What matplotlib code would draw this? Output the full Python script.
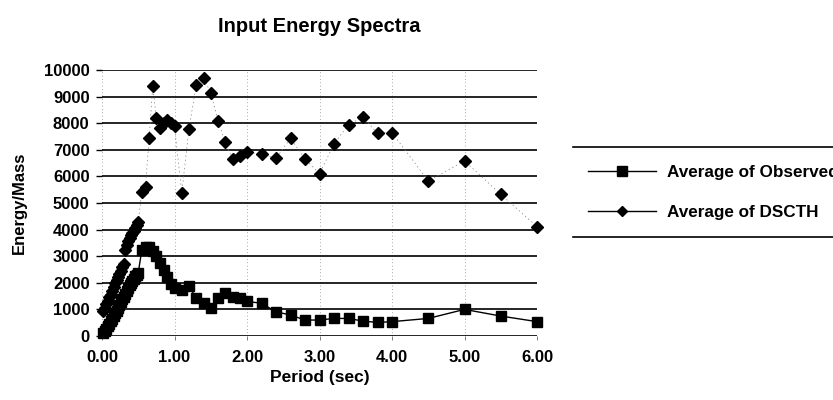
import matplotlib
matplotlib.use("Agg")
import matplotlib.pyplot as plt
from matplotlib.lines import Line2D

plt.rcParams['font.family'] = ['Liberation Sans', 'DejaVu Sans']

# ---- data ----
obs_period = [0.02, 0.04, 0.06, 0.08, 0.10, 0.12, 0.14, 0.16, 0.18, 0.20,
              0.22, 0.24, 0.26, 0.28, 0.30, 0.32, 0.34, 0.36, 0.38, 0.40,
              0.42, 0.44, 0.46, 0.48, 0.50,
              0.55, 0.60, 0.65, 0.70, 0.75, 0.80, 0.85, 0.90, 0.95, 1.00,
              1.10, 1.20, 1.30, 1.40, 1.50, 1.60, 1.70, 1.80, 1.90, 2.00,
              2.20, 2.40, 2.60, 2.80, 3.00, 3.20, 3.40, 3.60, 3.80, 4.00,
              4.50, 5.00, 5.50, 6.00]
obs_energy = [100, 180, 270, 370, 460, 560, 650, 760, 860, 950,
              1060, 1160, 1270, 1380, 1480, 1590, 1690, 1790, 1900, 1990,
              2080, 2160, 2240, 2310, 2380,
              3250, 3350, 3340, 3200, 3000, 2750, 2480, 2200, 1950, 1800,
              1730, 1880, 1420, 1230, 1040, 1420, 1600, 1450, 1420, 1300,
              1230, 910, 790, 600, 600, 660, 660, 560, 510, 540,
              660, 1000, 750, 540]

dsc_period = [0.02, 0.04, 0.06, 0.08, 0.10, 0.12, 0.14, 0.16, 0.18, 0.20,
              0.22, 0.24, 0.26, 0.28, 0.30, 0.32, 0.34, 0.36, 0.38, 0.40,
              0.42, 0.44, 0.46, 0.48, 0.50,
              0.55, 0.60, 0.65, 0.70, 0.75, 0.80, 0.85, 0.90, 0.95, 1.00,
              1.10, 1.20, 1.30, 1.40, 1.50, 1.60, 1.70, 1.80, 1.90, 2.00,
              2.20, 2.40, 2.60, 2.80, 3.00, 3.20, 3.40, 3.60, 3.80, 4.00,
              4.50, 5.00, 5.50, 6.00]
dsc_energy = [950, 1050, 1200, 1330, 1450, 1560, 1700, 1850, 1980, 2100,
              2200, 2330, 2450, 2580, 2700, 3250, 3420, 3580, 3700, 3800,
              3880, 3960, 4050, 4170, 4300,
              5430, 5620, 7430, 9400, 8190, 7820, 8000, 8110, 7990, 7880,
              5380, 7800, 9450, 9690, 9150, 8090, 7280, 6650, 6780, 6930,
              6830, 6680, 7430, 6660, 6100, 7220, 7950, 8230, 7620, 7650,
              5830, 6580, 5330, 4110]

series_labels = ["Average of Observed", "Average of DSCTH"]
x_ticks = [0, 1, 2, 3, 4, 5, 6]
x_ticklabels = ["0.00", "1.00", "2.00", "3.00", "4.00", "5.00", "6.00"]
y_ticks = [0, 1000, 2000, 3000, 4000, 5000, 6000, 7000, 8000, 9000, 10000]
y_ticklabels = [str(v) for v in y_ticks]

# ---- figure ----
fig = plt.figure(figsize=(8.33, 4.0), dpi=100)
ax = fig.add_axes([102/833, 1 - 336/400, 435/833, 266/400])

ax.plot(obs_period, obs_energy, color='black', lw=1.0, marker='s',
        ms=6.5, mfc='black', mec='black', zorder=3, clip_on=False)
ax.plot(dsc_period, dsc_energy, color='0.5', lw=0.5, ls=(0, (2, 4)),
        marker='D', ms=6.5, mfc='black', mec='black', zorder=3, clip_on=False)

ax.set_xlim(0, 6)
ax.set_ylim(0, 10000)
ax.set_xticks(x_ticks)
ax.set_xticklabels(x_ticklabels)
ax.set_yticks(y_ticks)
ax.set_yticklabels(y_ticklabels)

for s in ax.spines.values():
    s.set_visible(False)

ax.yaxis.grid(True, color='black', lw=1.2)
ax.xaxis.grid(True, color='0.55', lw=0.6, ls=(0, (1, 3)))
ax.set_axisbelow(True)

ax.tick_params(axis='y', length=4, width=1, color='black', pad=5,
               labelsize=12)
ax.tick_params(axis='x', length=3, width=0.6, color='0.4', pad=7,
               labelsize=12)
for lab in ax.get_xticklabels() + ax.get_yticklabels():
    lab.set_fontweight('bold')

ax.set_title("Input Energy Spectra", fontsize=14.5, fontweight='bold', pad=27)
ax.set_xlabel("Period (sec)", fontsize=12.5, fontweight='bold', labelpad=4)
ax.set_ylabel("Energy/Mass", fontsize=12, fontweight='bold', labelpad=12)

# ---- legend ----
handles = [
    Line2D([], [], color='black', lw=1.0, marker='s', ms=6.5),
    Line2D([], [], color='black', lw=1.0, marker='D', ms=5.5),
]
leg = fig.legend(handles, series_labels, loc='upper left',
                 bbox_to_anchor=(588/833, 1 - 165/400), frameon=False,
                 borderpad=0, borderaxespad=0,
                 handlelength=4.0, handletextpad=0.65, labelspacing=1.45,
                 prop={'weight': 'bold', 'size': 12.3})
fig.add_artist(Line2D([573/833, 1.0], [1 - 147/400, 1 - 147/400],
                      transform=fig.transFigure, color='black', lw=1.2))
fig.add_artist(Line2D([573/833, 1.0], [1 - 237/400, 1 - 237/400],
                      transform=fig.transFigure, color='black', lw=1.2))

fig.savefig("out.png", dpi=100)
